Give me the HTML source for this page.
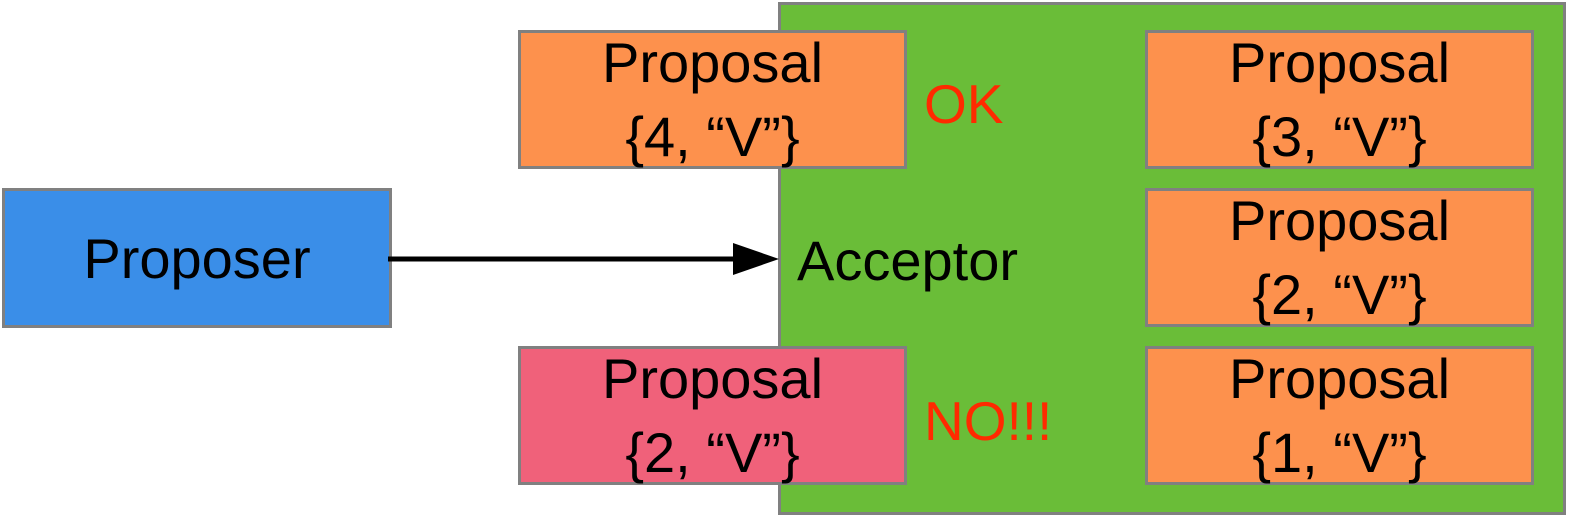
<!DOCTYPE html>
<html><head><meta charset="utf-8"><style>
html,body{margin:0;padding:0;background:#fff;width:1585px;height:522px;overflow:hidden;position:relative;font-family:"Liberation Sans",sans-serif}
.b{position:absolute;box-sizing:border-box;border:3px solid #808080}
.p{width:389px;height:139px;background:#fd914d;display:flex;flex-direction:column;align-items:center;justify-content:center;font-size:56px;line-height:74px;color:#000}
.t{position:absolute;font-size:55px;color:#ff2a00;line-height:1}
</style></head><body>
<div class="b" style="left:778px;top:2px;width:788px;height:513px;background:#6abd38"></div>
<div class="t" style="left:797px;top:233px;color:#000;font-size:56px">Acceptor</div>
<div class="b" style="left:2px;top:188px;width:390px;height:140px;background:#3a8ee8;display:flex;align-items:center;justify-content:center;font-size:56px">Proposer</div>
<svg style="position:absolute;left:0;top:0" width="1585" height="522"><line x1="388" y1="259" x2="740" y2="259" stroke="#000" stroke-width="5"/><polygon points="733,243 779,259 733,275" fill="#000"/></svg>
<div class="b p" style="left:518px;top:30px"><span>Proposal</span><span>{4, “V”}</span></div>
<div class="b p" style="left:518px;top:346px;background:#f0617a"><span>Proposal</span><span>{2, “V”}</span></div>
<div class="b p" style="left:1145px;top:30px"><span>Proposal</span><span>{3, “V”}</span></div>
<div class="b p" style="left:1145px;top:188px"><span>Proposal</span><span>{2, “V”}</span></div>
<div class="b p" style="left:1145px;top:346px"><span>Proposal</span><span>{1, “V”}</span></div>
<div class="t" style="left:924px;top:77px">OK</div>
<div class="t" style="left:924px;top:394px">NO!!!</div>
</body></html>
